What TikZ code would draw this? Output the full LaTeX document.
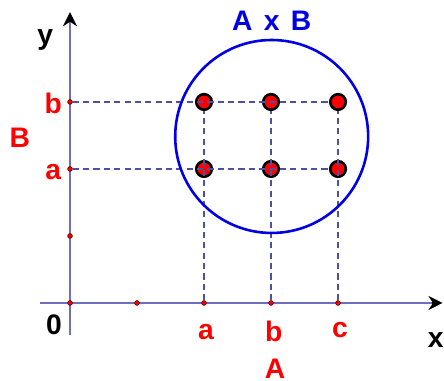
\documentclass[tikz,border=0pt]{standalone}
\usepackage{fontspec}
\setmainfont{Liberation Sans}
\usetikzlibrary{arrows.meta, positioning}

\begin{document}
\begin{tikzpicture}[
    lbl/.style={font=\fontsize{12}{14}\selectfont\bfseries, text=setred},
    axlbl/.style={font=\fontsize{12}{14}\selectfont\bfseries, text=black},
    tickdot/.style={circle, draw=black!60!setred, fill=setred, line width=0.3pt, inner sep=0pt, minimum size=2pt},
    pairdot/.style={circle, draw=black, fill=setred, line width=1.1pt, inner sep=0pt, minimum size=6.6pt},
    guide/.style={draw=guideblue, line width=0.6pt, dash pattern=on 2.6pt off 1.8pt},
    axis/.style={draw=axisblue, line width=0.6pt}
]
% Cartesian product A x B with A = {a,b,c} and B = {a,b}

\definecolor{setred}{RGB}{255,0,0}     % Red - set elements
\definecolor{setblue}{RGB}{0,0,230}    % Blue - the set A x B
\definecolor{axisblue}{RGB}{110,110,190}
\definecolor{guideblue}{RGB}{80,80,160}

\useasboundingbox (-1.045,-1.164) rectangle (5.582,4.522);

% Axes
\draw[axis] (0,-0.48) -- (0,4.3);
\draw[axis] (-0.45,0) -- (5.5,0);
\draw[-{Stealth[length=6pt,width=6pt]}, line width=0.6pt] (0,4.2) -- (0,4.34);
\draw[-{Stealth[length=6pt,width=6pt]}, line width=0.6pt] (5.4,0) -- (5.56,0);

% Tick points on the axes
\node[tickdot] (o) at (0,0) {};
\foreach \x/\nm in {1/x1, 2/xa, 3/xb, 4/xc} {
    \node[tickdot] (\nm) at (\x,0) {};
}
\foreach \y/\nm in {1/y1, 2/ya, 3/yb} {
    \node[tickdot] (\nm) at (0,\y) {};
}

% Ordered pairs
\foreach \x/\i in {2/a, 3/b, 4/c} {
    \foreach \y/\j in {2/a, 3/b} {
        \node[pairdot] (p\i\j) at (\x,\y) {};
    }
}

% Dashed guides
\draw[guide] (yb) -- (pcb);
\draw[guide] (ya) -- (pca);
\draw[guide] (xa) -- (pab);
\draw[guide] (xb) -- (pbb);
\draw[guide] (xc) -- (pcb);

% Set A x B
\node[circle, draw=setblue, line width=1.1pt, minimum size=2.88cm, inner sep=0pt] (setAB) at (3.01,2.485) {};
\node[lbl, text=setblue, above=0pt of setAB] (labAB) {A\hspace{0.4em}x\hspace{0.4em}B};

% Labels
\node[axlbl] (laby) at (-0.37,3.92) {y};
\node[axlbl] (labx) at (5.46,-0.55) {x};
\node[axlbl] (lab0) at (-0.24,-0.33) {0};
\node[lbl] (labyb) at (-0.25,2.98) {b};
\node[lbl] (labya) at (-0.25,1.95) {a};
\node[lbl] (labB) at (-0.75,2.46) {B};
\node[lbl] (labxa) at (2.03,-0.43) {a};
\node[lbl] (labxb) at (3.04,-0.43) {b};
\node[lbl] (labxc) at (4.03,-0.41) {c};
\node[lbl, inner sep=0pt] (labA) at (3.06,-0.98) {A};

\end{tikzpicture}
\end{document}
